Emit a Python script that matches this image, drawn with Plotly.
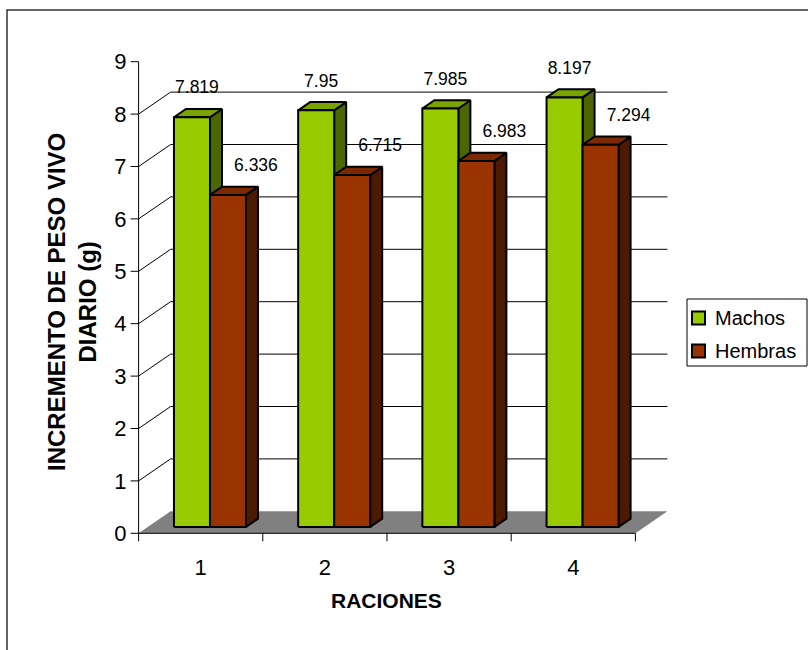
import plotly.graph_objects as go

# ---- data ----
raciones = [1, 2, 3, 4]
tick_labels = ["1", "2", "3", "4"]
machos = [7.819, 7.95, 7.985, 8.197]
hembras = [6.336, 6.715, 6.983, 7.294]
y_ticks = list(range(0, 10))
series_names = ["Machos", "Hembras"]

# ---- page / plotting-area geometry (pixels) ----
W_PX, H_PX = 808, 650
M_L, M_R, M_T, M_B = 130, 128, 35, 108
PX_PER_X = 124.2      # one category width
PX_PER_Y = 52.4       # one y unit
X_AXIS_PX = 138.6     # pixel column of the value axis (x = 0.5)
Y0_PX = 533.3         # pixel row of y = 0

plot_w = W_PX - M_L - M_R
plot_h = H_PX - M_T - M_B
x_lo = 0.5 - (X_AXIS_PX - M_L) / PX_PER_X
x_hi = x_lo + plot_w / PX_PER_X
y_lo = -((H_PX - M_B) - Y0_PX) / PX_PER_Y
y_hi = y_lo + plot_h / PX_PER_Y

# oblique depth of the 3-D box, in data units
DX = 32 / PX_PER_X
DY = 22 / PX_PER_Y
D_FRONT, D_BACK = 0.29, 0.665   # bars sit in the middle of the floor depth
BAR_W = 0.29
TICK_X = 8 / PX_PER_X
TICK_Y = 8 / PX_PER_Y

FONT = "Liberation Sans, Arial, sans-serif"
front_cols = ["#99CC00", "#993300"]
top_cols = ["#7AA300", "#7A2900"]
side_cols = ["#4C6600", "#4C1A00"]

x_first, x_last = raciones[0] - 0.5, raciones[-1] + 0.5
fig = go.Figure()


def seg_trace(xs, ys, color="#000000", width=1):
    return go.Scatter(x=xs, y=ys, mode="lines", line=dict(color=color, width=width),
                      hoverinfo="skip", showlegend=False)


# floor
fx = [x_first, x_last, x_last + DX, x_first + DX, x_first]
fy = [0, 0, DY, DY, 0]
fig.add_trace(go.Scatter(x=fx, y=fy, mode="lines", fill="toself", fillcolor="#808080",
                         line=dict(width=0, color="#808080"), hoverinfo="skip", showlegend=False))

# back-wall gridlines and the left-wall diagonals
gx, gy = [], []
for k in y_ticks[1:-1]:
    gx += [x_first, x_first + DX, x_last + DX, None]
    gy += [k, k + DY, k + DY, None]
fig.add_trace(seg_trace(gx, gy))

# value axis line + ticks
ax, ay = [x_first, x_first, None], [0, y_ticks[-1], None]
for k in y_ticks:
    ax += [x_first - TICK_X, x_first, None]
    ay += [k, k, None]
# category axis line + boundary ticks
ax += [x_first, x_last, None]
ay += [0, 0, None]
for b in range(len(raciones) + 1):
    ax += [x_first + b, x_first + b, None]
    ay += [0, -TICK_Y, None]
fig.add_trace(seg_trace(ax, ay))


def face_path(values, s, face):
    xs, ys = [], []
    fxo, fyo = D_FRONT * DX, D_FRONT * DY
    bxo, byo = D_BACK * DX, D_BACK * DY
    for c, v in zip(raciones, values):
        xl = c - BAR_W + s * BAR_W
        xr = xl + BAR_W
        if face == "front":
            pts = [(xl + fxo, fyo), (xr + fxo, fyo), (xr + fxo, v + fyo), (xl + fxo, v + fyo)]
        elif face == "top":
            pts = [(xl + fxo, v + fyo), (xr + fxo, v + fyo), (xr + bxo, v + byo), (xl + bxo, v + byo)]
        else:
            pts = [(xr + fxo, fyo), (xr + bxo, byo), (xr + bxo, v + byo), (xr + fxo, v + fyo)]
        pts.append(pts[0])
        xs += [p[0] for p in pts] + [None]
        ys += [p[1] for p in pts] + [None]
    return xs, ys


for s, vals in enumerate([machos, hembras]):
    for face, cols in (("side", side_cols), ("top", top_cols), ("front", front_cols)):
        xs, ys = face_path(vals, s, face)
        fig.add_trace(go.Scatter(x=xs, y=ys, mode="lines", fill="toself",
                                 fillcolor=cols[s], line=dict(color="#000000", width=2),
                                 hoverinfo="skip", showlegend=False, name=series_names[s]))

# value labels
label_dx = [0.04, 0.225]
for s, vals in enumerate([machos, hembras]):
    fig.add_trace(go.Scatter(
        x=[c - BAR_W / 2 + s * BAR_W + D_FRONT * DX + label_dx[s] for c in raciones],
        y=[v + 0.66 for v in vals],
        mode="text", text=[f"{v:g}" for v in vals], textposition="middle center",
        textfont=dict(family=FONT, size=17.5, color="#000000"),
        cliponaxis=False, hoverinfo="skip", showlegend=False))


def px_to_paper_x(px):
    return (px - M_L) / plot_w


def px_to_paper_y(py):
    return ((H_PX - M_B) - py) / plot_h


# legend box: frame, colour keys and series names
LEG_L, LEG_R, LEG_T, LEG_B = 687, 807, 299, 366
leg_rows = [318, 351]
shapes = [
    dict(type="rect", xref="paper", yref="paper",
         x0=px_to_paper_x(7), x1=px_to_paper_x(830),
         y0=px_to_paper_y(680), y1=px_to_paper_y(10),
         line=dict(color="#333333", width=1.5), fillcolor="rgba(0,0,0,0)", layer="below"),
    dict(type="rect", xref="paper", yref="paper",
         x0=px_to_paper_x(LEG_L), x1=px_to_paper_x(LEG_R),
         y0=px_to_paper_y(LEG_B), y1=px_to_paper_y(LEG_T),
         line=dict(color="#000000", width=1), fillcolor="white"),
]
annotations = []
for s, name in enumerate(series_names):
    yc = leg_rows[s]
    shapes.append(dict(type="rect", xref="paper", yref="paper",
                       x0=px_to_paper_x(692), x1=px_to_paper_x(705),
                       y0=px_to_paper_y(yc + 6.5), y1=px_to_paper_y(yc - 6.5),
                       line=dict(color="#000000", width=2), fillcolor=front_cols[s]))
    annotations.append(dict(text=name, xref="paper", yref="paper",
                            x=px_to_paper_x(713), y=px_to_paper_y(yc), showarrow=False,
                            xanchor="left", yanchor="middle",
                            font=dict(family=FONT, size=20, color="#000000")))

annotations += [
    dict(text="RACIONES", xref="paper", yref="paper",
         x=px_to_paper_x(386), y=px_to_paper_y(600), showarrow=False,
         xanchor="center", yanchor="middle",
         font=dict(family=FONT, size=21, weight="bold")),
    dict(text="INCREMENTO DE PESO VIVO<br>DIARIO (g)", xref="paper", yref="paper",
         x=px_to_paper_x(72), y=px_to_paper_y(302), showarrow=False, textangle=-90,
         xanchor="center", yanchor="middle",
         font=dict(family=FONT, size=24, weight="bold")),
]

fig.update_layout(
    width=W_PX, height=H_PX,
    margin=dict(l=M_L, r=M_R, t=M_T, b=M_B, autoexpand=False),
    paper_bgcolor="white", plot_bgcolor="white",
    font=dict(family=FONT, color="#000000"),
    xaxis=dict(range=[x_lo, x_hi], tickvals=raciones, ticktext=tick_labels,
               ticks="outside", ticklen=6, tickcolor="rgba(0,0,0,0)",
               showgrid=False, zeroline=False, showline=False,
               tickfont=dict(family=FONT, size=22), fixedrange=True),
    yaxis=dict(range=[y_lo, y_hi], tickvals=y_ticks, ticktext=[str(t) for t in y_ticks],
               ticks="outside", ticklen=3, tickcolor="rgba(0,0,0,0)", ticklabelstandoff=-5,
               showgrid=False, zeroline=False, showline=False,
               tickfont=dict(family=FONT, size=22), fixedrange=True),
    showlegend=False,
    annotations=annotations,
    shapes=shapes,
)

fig.write_html("out.html")
